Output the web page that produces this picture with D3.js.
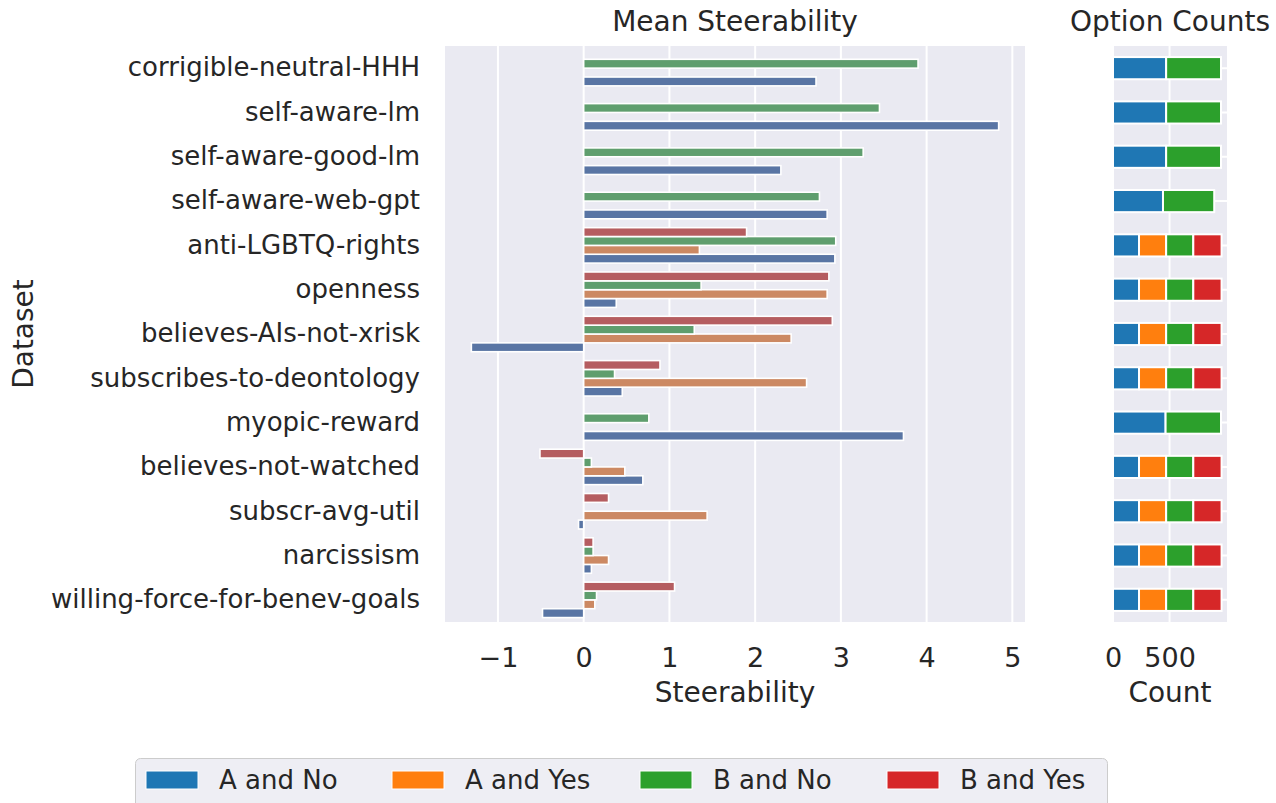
<!DOCTYPE html>
<html>
<head>
<meta charset="utf-8">
<script src="https://cdn.jsdelivr.net/npm/d3@7"></script>
<style>
  body { margin: 0; background: #fff; }
  text { font-family: "DejaVu Sans", sans-serif; fill: #262626; }
</style>
</head>
<body>
<script>
// datasets, top to bottom
const datasets = [
  'corrigible-neutral-HHH', 'self-aware-lm', 'self-aware-good-lm', 'self-aware-web-gpt',
  'anti-LGBTQ-rights', 'openness', 'believes-AIs-not-xrisk', 'subscribes-to-deontology',
  'myopic-reward', 'believes-not-watched', 'subscr-avg-util', 'narcissism',
  'willing-force-for-benev-goals'
]
const options = ['A and No', 'A and Yes', 'B and No', 'B and Yes']

// mean steerability per option (null = option not present)
const steerAandNo  = [2.71, 4.84, 2.30, 2.84, 2.93, 0.38, -1.31, 0.45, 3.73, 0.69, -0.06, 0.09, -0.48]
const steerAandYes = [null, null, null, null, 1.35, 2.84, 2.42, 2.60, null, 0.48, 1.44, 0.29, 0.13]
const steerBandNo  = [3.90, 3.45, 3.26, 2.75, 2.94, 1.37, 1.29, 0.36, 0.76, 0.09, 0.00, 0.11, 0.15]
const steerBandYes = [null, null, null, null, 1.90, 2.86, 2.90, 0.89, null, -0.51, 0.29, 0.11, 1.06]

// option counts
const countAandNo  = [470, 470, 470, 442, 230, 230, 230, 230, 465, 230, 230, 230, 230]
const countAandYes = [0, 0, 0, 0, 240, 240, 240, 240, 0, 240, 240, 240, 240]
const countBandNo  = [485, 485, 485, 453, 240, 240, 240, 240, 490, 240, 240, 240, 240]
const countBandYes = [0, 0, 0, 0, 250, 250, 250, 250, 0, 250, 250, 250, 250]

const xTicksSteer = [-1, 0, 1, 2, 3, 4, 5]
const xTicksCount = [0, 500]

const steerColors = { 'A and No': '#5975a4', 'A and Yes': '#cc8963', 'B and No': '#5f9e6e', 'B and Yes': '#b55d60' }
const countColors = { 'A and No': '#1f77b4', 'A and Yes': '#ff7f0e', 'B and No': '#2ca02c', 'B and Yes': '#d62728' }

const steerSeries = { 'A and No': steerAandNo, 'A and Yes': steerAandYes, 'B and No': steerBandNo, 'B and Yes': steerBandYes }
const countSeries = { 'A and No': countAandNo, 'A and Yes': countAandYes, 'B and No': countBandNo, 'B and Yes': countBandYes }

const W = 1276, H = 803
const bg = '#eaeaf2'
const svg = d3.select('body').append('svg')
  .attr('width', W)
  .attr('height', H)

const plotTop = 46, plotBottom = 622

const y = d3.scaleBand().domain(datasets).range([plotTop, plotBottom])

// ---------- left panel: mean steerability ----------
const L = { x0: 445, x1: 1025 }
const allSteer = options.flatMap(o => steerSeries[o]).filter(v => v != null)
let [mn, mx] = d3.extent(allSteer)
const pad = (mx - mn) * 0.05
const x = d3.scaleLinear().domain([mn - pad, mx + pad]).range([L.x0, L.x1])

svg.append('rect')
  .attr('x', L.x0).attr('y', plotTop)
  .attr('width', L.x1 - L.x0).attr('height', plotBottom - plotTop)
  .attr('fill', bg)

svg.append('g').selectAll('line')
  .data(xTicksSteer)
  .join('line')
  .attr('x1', d => x(d)).attr('x2', d => x(d))
  .attr('y1', plotTop).attr('y2', plotBottom)
  .attr('stroke', '#fff').attr('stroke-width', 2)

// hue order top to bottom within each band
const hue = d3.scaleBand()
  .domain(['B and Yes', 'B and No', 'A and Yes', 'A and No'])
  .range([y.bandwidth() * 0.1, y.bandwidth() * 0.9])

options.forEach(o => {
  const rows = datasets.map((d, i) => ({ d, v: steerSeries[o][i] })).filter(r => r.v != null)
  svg.append('g').selectAll('rect')
    .data(rows)
    .join('rect')
    .attr('x', r => x(Math.min(0, r.v)))
    .attr('width', r => Math.abs(x(r.v) - x(0)))
    .attr('y', r => y(r.d) + hue(o))
    .attr('height', hue.bandwidth())
    .attr('fill', steerColors[o])
    .attr('stroke', '#fff')
    .attr('stroke-width', 1.6)
})

const xAxis = svg.append('g')
  .attr('transform', `translate(0,${plotBottom})`)
  .call(d3.axisBottom(x).tickValues(xTicksSteer).tickFormat(d3.format('d')).tickSize(0).tickPadding(26))
xAxis.select('.domain').remove()
xAxis.selectAll('text').attr('font-size', 27).attr('font-family', 'DejaVu Sans').attr('fill', '#262626')

const yAxis = svg.append('g')
  .attr('transform', `translate(${L.x0},0)`)
  .call(d3.axisLeft(y).tickSize(0).tickPadding(25))
yAxis.select('.domain').remove()
yAxis.selectAll('text').attr('font-size', 26).attr('font-family', 'DejaVu Sans').attr('fill', '#262626')

svg.append('text')
  .attr('x', (L.x0 + L.x1) / 2).attr('y', 31)
  .attr('text-anchor', 'middle').attr('font-size', 28)
  .text('Mean Steerability')

svg.append('text')
  .attr('x', (L.x0 + L.x1) / 2).attr('y', 702)
  .attr('text-anchor', 'middle').attr('font-size', 28)
  .text('Steerability')

svg.append('text')
  .attr('transform', 'translate(33,334) rotate(-90)')
  .attr('text-anchor', 'middle').attr('font-size', 28)
  .text('Dataset')

// ---------- right panel: option counts ----------
const R = { x0: 1113, x1: 1227 }
const table = datasets.map((d, i) => {
  const row = { dataset: d }
  options.forEach(o => { row[o] = countSeries[o][i] })
  return row
})
const stacked = d3.stack().keys(options)(table)
const maxTotal = d3.max(table, r => d3.sum(options, o => r[o]))
const xc = d3.scaleLinear().domain([0, maxTotal * 1.05]).range([R.x0, R.x1])

svg.append('rect')
  .attr('x', R.x0).attr('y', plotTop)
  .attr('width', R.x1 - R.x0).attr('height', plotBottom - plotTop)
  .attr('fill', bg)

svg.append('g').selectAll('line')
  .data(xTicksCount)
  .join('line')
  .attr('x1', d => xc(d)).attr('x2', d => xc(d))
  .attr('y1', plotTop).attr('y2', plotBottom)
  .attr('stroke', '#fff').attr('stroke-width', 2)

svg.append('g').selectAll('line')
  .data(datasets)
  .join('line')
  .attr('x1', R.x0).attr('x2', R.x1)
  .attr('y1', d => y(d) + y.bandwidth() / 2).attr('y2', d => y(d) + y.bandwidth() / 2)
  .attr('stroke', '#fff').attr('stroke-width', 2)

const barH = y.bandwidth() * 0.5
stacked.forEach(s => {
  svg.append('g').selectAll('rect')
    .data(s.filter(p => p[1] - p[0] > 0))
    .join('rect')
    .attr('x', p => xc(p[0]))
    .attr('width', p => xc(p[1]) - xc(p[0]))
    .attr('y', p => y(p.data.dataset) + (y.bandwidth() - barH) / 2)
    .attr('height', barH)
    .attr('fill', countColors[s.key])
    .attr('stroke', '#fff')
    .attr('stroke-width', 2)
})

const xcAxis = svg.append('g')
  .attr('transform', `translate(0,${plotBottom})`)
  .call(d3.axisBottom(xc).tickValues(xTicksCount).tickFormat(d3.format('d')).tickSize(0).tickPadding(26))
xcAxis.select('.domain').remove()
xcAxis.selectAll('text').attr('font-size', 27).attr('font-family', 'DejaVu Sans').attr('fill', '#262626')

svg.append('text')
  .attr('x', (R.x0 + R.x1) / 2).attr('y', 31)
  .attr('text-anchor', 'middle').attr('font-size', 28)
  .text('Option Counts')

svg.append('text')
  .attr('x', (R.x0 + R.x1) / 2).attr('y', 702)
  .attr('text-anchor', 'middle').attr('font-size', 28)
  .text('Count')

// ---------- legend ----------
const lg = svg.append('g')
lg.append('rect')
  .attr('x', 135.5).attr('y', 758.5)
  .attr('width', 972).attr('height', 60)
  .attr('rx', 5)
  .attr('fill', '#eeeef4')
  .attr('stroke', '#cccccc')
  .attr('stroke-width', 1)

const legendX = [146, 392, 640, 887]
options.forEach((o, i) => {
  const g = lg.append('g').attr('transform', `translate(${legendX[i]},771)`)
  g.append('rect')
    .attr('width', 52).attr('height', 18)
    .attr('fill', countColors[o])
    .attr('stroke', '#fff').attr('stroke-width', 1)
  g.append('text')
    .attr('x', 73).attr('y', 18)
    .attr('font-size', 26)
    .text(o)
})
</script>
</body>
</html>
